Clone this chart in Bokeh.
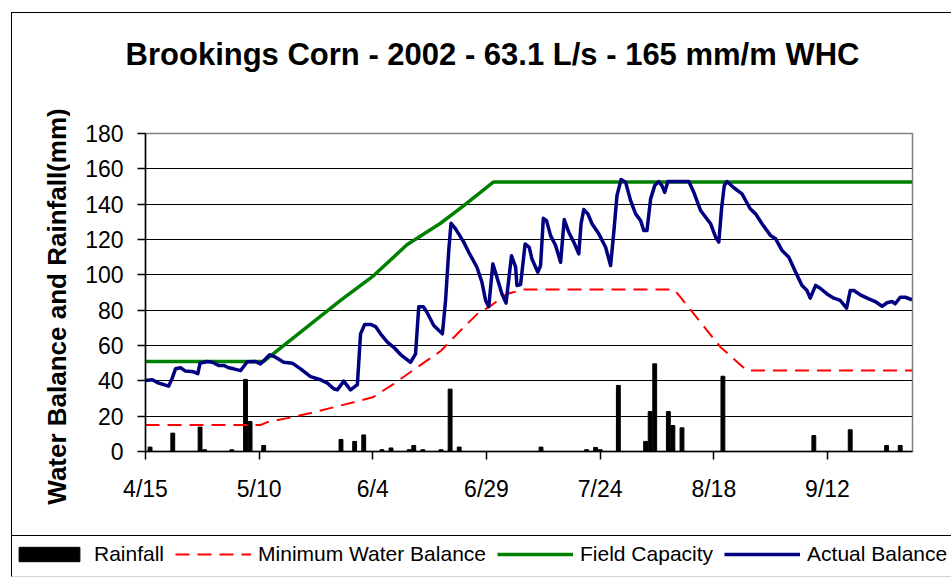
import math
from bokeh.plotting import figure
from bokeh.layouts import column, row
from bokeh.models import Range1d, FixedTicker, Legend, LegendItem, InlineStyleSheet, Label
from bokeh.embed import file_html
from bokeh.resources import INLINE

# ---------------- data ----------------
title_text = "Brookings Corn - 2002 - 63.1 L/s - 165 mm/m WHC"
y_label = "Water Balance and Rainfall(mm)"
x_tick_days = [0, 25, 50, 75, 100, 125, 150]          # days after 4/15
x_tick_labels = ["4/15", "5/10", "6/4", "6/29", "7/24", "8/18", "9/12"]
y_ticks = [0, 20, 40, 60, 80, 100, 120, 140, 160, 180]

rain_day = [1, 6, 12, 13, 19, 22, 23, 26, 43, 46, 48, 52, 54, 58, 59, 61, 65, 67, 69,
            87, 97, 99, 100, 104, 110, 111, 112, 115, 116, 118, 127, 147, 155, 163, 166]
rain_mm = [2.5, 10.4, 13.8, 1.0, 1.0, 40.8, 17.0, 3.4, 6.8, 5.7, 9.4, 1.0, 2.0, 1.0, 3.4, 1.0, 1.0, 35.3, 2.5,
           2.5, 1.0, 2.3, 1.0, 37.4, 5.7, 22.6, 49.6, 22.6, 14.7, 13.4, 42.6, 9.0, 12.3, 3.4, 3.4]

fc_day = [0, 26, 42.9, 50.2, 57.5, 64.9, 70, 76.5, 168.6]
fc_mm = [51, 51, 85.5, 99.6, 117, 129.2, 139.2, 152.5, 152.5]

minwb_day = [0, 25.3, 26.8, 31.2, 37, 45.8, 50, 54.6, 59.8, 65, 69.3, 73, 76, 79.5, 83.2,
             116.3, 126.5, 132.3, 168.6]
minwb_mm = [15, 15, 16.6, 18.9, 22.2, 27.9, 30.7, 38.3, 47.7, 57, 68.5, 77.9, 82.6, 89.2, 91.7,
            91.7, 59, 45.8, 45.8]

act_day = [0, 1.5, 2.9, 4.0, 5.1, 5.9, 6.6, 7.7, 8.8, 10.6, 11.5, 12.0, 13.6, 14.7, 16.1, 17.2,
           18.3, 19.4, 20.9, 21.6, 22.4, 24.2, 25.3, 27.3, 28.6, 30.4, 32.3, 34.1, 36.3, 38.5,
           40.0, 41.4, 42.2, 43.6, 45.1, 46.6, 47.3, 48.2, 49.5, 50.6, 51.7, 53.2, 54.6, 56.1,
           58.3, 59.4, 60.1, 61.1, 61.9, 63.4, 65.3, 66.0, 66.7, 67.2, 68.2, 70.0, 71.1, 72.9,
           74.0, 74.8, 75.5, 76.4, 77.3, 78.4, 79.3, 80.5, 81.4, 81.7, 82.5, 83.5, 84.4, 85.0,
           86.3, 86.9, 87.5, 88.2, 89.1, 90.2, 91.3, 92.1, 93.1, 94.2, 95.3, 95.8, 96.4, 97.3,
           98.2, 99.7, 101.2, 102.3, 103.0, 103.7, 104.6, 105.6, 106.7, 107.8, 108.9, 109.6,
           110.3, 111.1, 112.0, 112.9, 113.6, 114.2, 114.9, 119.5, 120.6, 122.1, 123.2, 124.3,
           125.4, 126.1, 126.7, 127.3, 127.9, 129.4, 131.2, 133.0, 134.2, 135.6, 137.5, 138.6,
           140.0, 141.5, 143.0, 144.4, 145.5, 146.2, 147.4, 148.4, 149.9, 151.4, 152.8, 154.2,
           155.0, 155.8, 157.2, 159.1, 160.5, 162.0, 163.1, 164.2, 164.9, 166.0, 167.1, 168.6]
act_mm = [40.2, 40.6, 38.7, 37.9, 37.0, 41.7, 46.8, 47.4, 45.5, 45.1, 44.0, 50.0, 50.9, 50.5, 48.7, 48.7,
          47.4, 46.8, 45.8, 48.1, 50.8, 50.9, 49.6, 54.7, 53.4, 50.5, 50.0, 46.8, 42.4, 40.6,
          38.7, 35.5, 34.9, 39.8, 34.9, 37.8, 66.6, 71.9, 71.9, 70.7, 66.6, 61.9, 59.0, 54.9,
          50.5, 55.3, 82.0, 82.0, 78.8, 71.3, 66.6, 85.5, 113.8, 129.2, 126.0, 118.5, 112.8, 104.3,
          95.8, 85.5, 82.0, 106.2, 98.6, 89.2, 84.0, 110.8, 104.5, 94.0, 94.5, 117.5, 115.6, 109.0,
          101.5, 105.3, 132.0, 130.7, 122.2, 116.6, 107.1, 131.3, 124.1, 118.5, 111.9, 128.9, 137.0, 134.5,
          128.9, 123.2, 115.6, 105.3, 124.1, 144.9, 153.9, 152.4, 142.0, 134.5, 130.7, 125.1,
          125.1, 143.0, 150.5, 152.8, 150.5, 146.7, 152.8, 152.8, 146.7, 136.4, 132.6, 128.9,
          121.3, 118.5, 137.4, 150.5, 152.8, 149.3, 145.8, 137.4, 134.5, 128.9, 122.2, 120.4,
          113.8, 110.0, 101.5, 94.0, 91.1, 86.8, 94.0, 92.4, 89.2, 86.8, 85.5, 81.1,
          91.1, 91.1, 88.7, 86.4, 84.9, 82.2, 84.2, 84.9, 83.6, 87.3, 87.3, 85.9]

FONT = "Liberation Sans"
W = 951
YLAB_W = 70

# ---------------- styles ----------------
bar_style = dict(fill_color="black", line_color="black")
min_style = dict(line_color="#ff0000", line_width=2, line_dash="14 8")
fc_style = dict(line_color="#008000", line_width=3.5)
act_style = dict(line_color="#000080", line_width=3.5, line_join="round")


def strip(width, height):
    f = figure(width=width, height=height, output_backend="svg", toolbar_location=None,
               x_axis_type=None, y_axis_type=None, min_border=0,
               x_range=Range1d(-1000, -999), y_range=Range1d(-1000, -999))
    f.outline_line_color = None
    f.background_fill_color = "white"
    f.border_fill_color = "white"
    try:
        f.frame_align = False
    except Exception:
        pass
    return f


# ---------------- title strip ----------------
tfig = strip(W, 100)
tfig.add_layout(Label(x=492, y=46, x_units="screen", y_units="screen", text=title_text,
                      text_align="center", text_baseline="alphabetic",
                      text_font=FONT, text_font_style="bold", text_font_size="31px",
                      text_color="black"))

# ---------------- y-axis title strip ----------------
yfig = strip(YLAB_W, 435)
yfig.add_layout(Label(x=56, y=229, x_units="screen", y_units="screen", text=y_label,
                      angle=math.pi / 2, text_align="center", text_baseline="middle",
                      text_font=FONT, text_font_style="bold", text_font_size="26px",
                      text_color="black"))

# ---------------- main chart ----------------
p = figure(width=W - YLAB_W, height=435, output_backend="svg", toolbar_location=None,
           x_range=Range1d(0, 168.7), y_range=Range1d(0, 180),
           min_border_left=145 - YLAB_W, min_border_right=39, min_border_top=33, min_border_bottom=84)
p.background_fill_color = "white"
p.border_fill_color = "white"
p.outline_line_color = "#808080"
p.outline_line_width = 1.5

for ax in (p.xaxis[0], p.yaxis[0]):
    ax.axis_line_color = "black"
    ax.axis_line_width = 1.5
    ax.major_tick_line_color = "black"
    ax.major_tick_line_width = 1.5
    ax.major_tick_out = 8
    ax.major_tick_in = 0
    ax.minor_tick_out = 0
    ax.minor_tick_in = 0
    ax.major_label_text_font = FONT
    ax.major_label_text_font_size = "23px"
    ax.major_label_text_color = "black"

p.xaxis.ticker = FixedTicker(ticks=x_tick_days)
p.xaxis.major_label_overrides = {d: lab for d, lab in zip(x_tick_days, x_tick_labels)}
p.xaxis.major_label_standoff = 16

p.yaxis.ticker = FixedTicker(ticks=y_ticks)
p.yaxis.major_label_standoff = 14

p.xgrid.visible = False
p.ygrid.ticker = FixedTicker(ticks=y_ticks[1:-1])
p.ygrid.grid_line_color = "black"
p.ygrid.grid_line_width = 1

p.vbar(x=rain_day, top=rain_mm, width=0.85, **bar_style)
p.line(minwb_day, minwb_mm, **min_style)
p.line(fc_day, fc_mm, **fc_style)
p.line(act_day, act_mm, **act_style)

# ---------------- legend strip (same series, off-range, only their keys show) ----------------
lfig = strip(W, 42)
lg_bar = lfig.vbar(x=rain_day, top=rain_mm, width=0.85, **bar_style)
lg_min = lfig.line(minwb_day, minwb_mm, **min_style)
lg_fc = lfig.line(fc_day, fc_mm, **fc_style)
lg_act = lfig.line(act_day, act_mm, **act_style)
legend = Legend(items=[LegendItem(label="Rainfall", renderers=[lg_bar], index=0),
                       LegendItem(label="Minimum Water Balance", renderers=[lg_min]),
                       LegendItem(label="Field Capacity", renderers=[lg_fc]),
                       LegendItem(label="Actual Balance", renderers=[lg_act])],
                orientation="horizontal", location=(11, 11),
                glyph_width=76, glyph_height=18, label_standoff=7, spacing=11,
                padding=6, margin=0,
                label_text_font=FONT, label_text_font_size="21px", label_text_color="black",
                border_line_color=None, background_fill_alpha=0)
lfig.add_layout(legend)

page = column(tfig, row(yfig, p, spacing=0), lfig, spacing=0)
page.stylesheets = [InlineStyleSheet(css="""
:host::after {
  content: ""; position: absolute; z-index: 10; pointer-events: none;
  left: 11px; top: 12px; width: 940px; height: 524px;
  border-left: 1.5px solid black; border-top: 1.5px solid black;
  box-sizing: border-box;
}
:host::before {
  content: ""; position: absolute; z-index: 10; pointer-events: none;
  left: 11px; top: 535px; width: 940px; height: 42px;
  border-left: 1.5px solid black; border-top: 1.5px solid black;
  border-bottom: 1.5px solid #d4d4d4;
  box-sizing: border-box;
}
""")]

open("out.html", "w").write(file_html(page, INLINE, "Brookings Corn 2002"))
